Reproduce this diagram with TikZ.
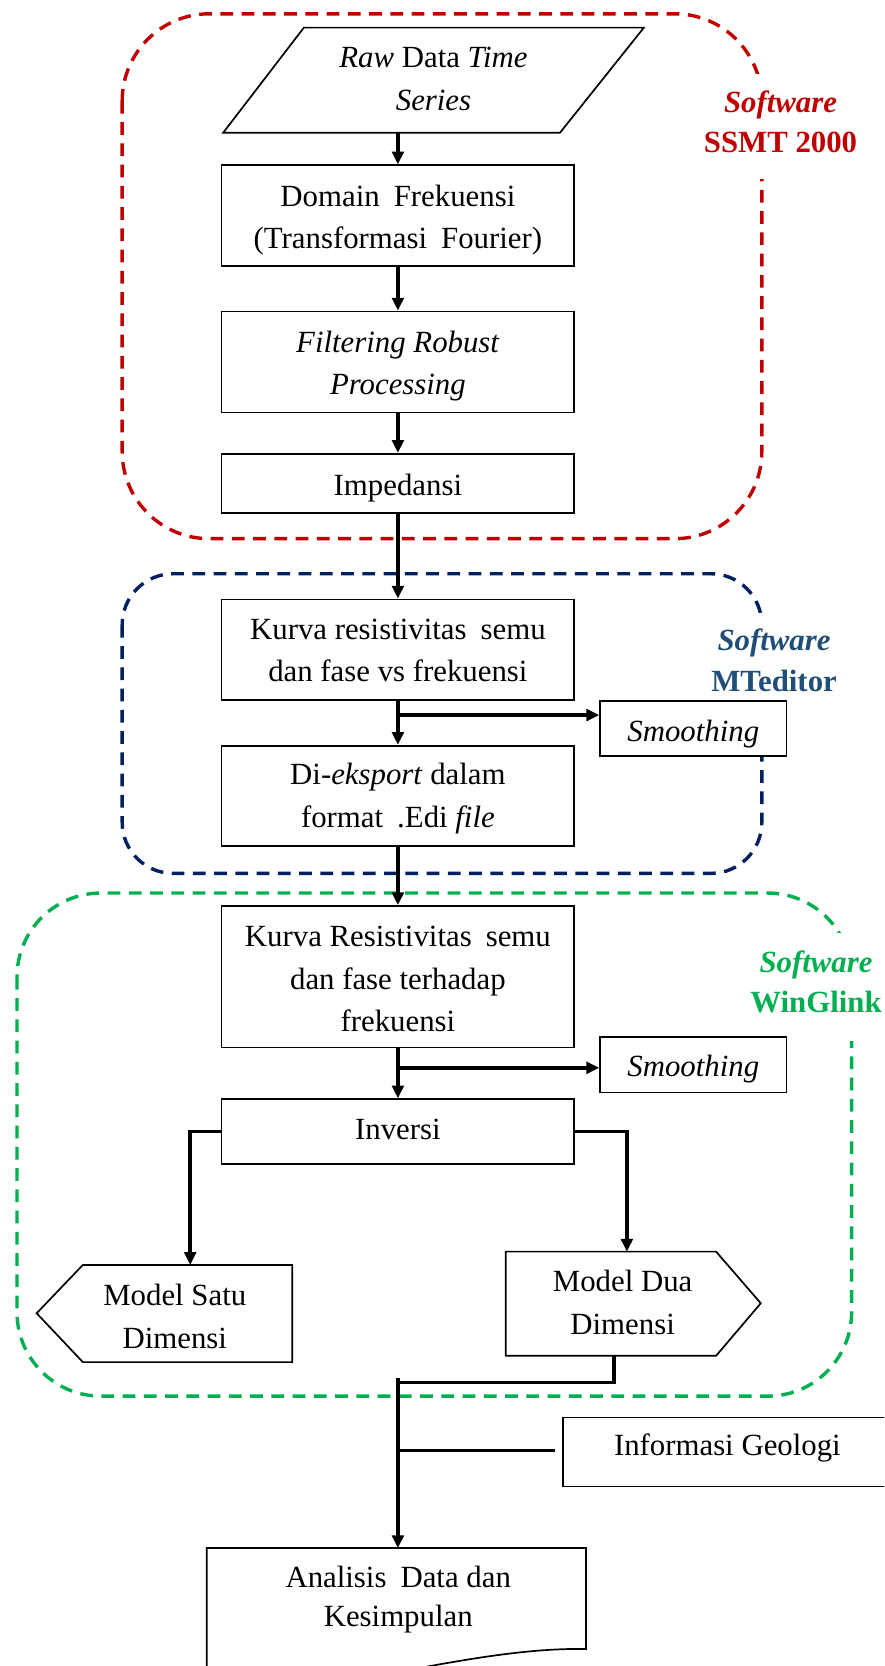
\documentclass[tikz,border=0pt]{standalone}
\usepackage{fontspec}
\setmainfont{Liberation Serif}
\usetikzlibrary{arrows.meta}
\definecolor{redc}{HTML}{C00000}
\definecolor{navy}{HTML}{002060}
\definecolor{bluetxt}{HTML}{1F4E79}
\definecolor{greenc}{HTML}{00B050}
\begin{document}
\begin{tikzpicture}[x=0.5pt,y=-0.5pt,
  every node/.style={font=\fontsize{14.5}{20}\selectfont,align=center},
  box/.style={draw,line width=0.8pt,fill=white,inner sep=0pt,minimum width=166pt},
  smbox/.style={draw,line width=0.8pt,fill=white,inner sep=0pt,minimum width=87.75pt,minimum height=26pt},
  shapeline/.style={draw,line width=0.8pt,fill=white},
  conn/.style={line width=1.6pt},
  arr/.style={conn,-{Triangle[length=6pt,width=5.5pt]}},
  frame/.style={line width=1.6pt,dash pattern=on 6pt off 4pt},
  lbl/.style={font=\bfseries\fontsize{14.5}{19}\selectfont}
  ]
\clip (0,0) rectangle (832,1568);
\fill[white] (0,0) rectangle (832,1568);

% dashed frames
\draw[frame,redc,rounded corners=41pt] (115,13) rectangle (717,507);
\fill[white] (700,70) rectangle (735,168);
\draw[frame,navy,rounded corners=24pt] (115,540) rectangle (717,822);
\fill[white] (700,577) rectangle (735,712);
\draw[frame,greenc,rounded corners=39.5pt] (16,840.5) rectangle (801.5,1314);
\fill[white] (786,878) rectangle (820,980);

% labels
\node[lbl,text=redc] (lblred) at (734.6,114.6) {\textit{Software}\\SSMT 2000};
\node[lbl,text=bluetxt] (lblblue) at (728.5,621.5) {\textit{Software}\\MTeditor};
\node[lbl,text=greenc] (lblgreen) at (768,924) {\textit{Software}\\WinGlink};

% parallelogram
\draw[shapeline] (286,26) -- (606,26) -- (527,125) -- (210,125) -- cycle;
\node (raw) at (408,74.5) {\textit{Raw} Data \textit{Time}\\\textit{Series}};
\coordinate (rawB) at (374.5,125);

% main boxes
\node[box,minimum height=47.5pt] (dom) at (374.5,203) {};
\node (domt) at ([yshift=-2pt]dom.center) {Domain\hspace{3pt} Frekuensi\\(Transformasi\hspace{3pt} Fourier)};
\node[box,minimum height=47.5pt] (filt) at (374.5,340.6) {};
\node (filtt) at ([yshift=-2pt]filt.center) {\textit{Filtering Robust}\\\textit{Processing}};
\node[box,minimum height=28pt] (imp) at (374.5,455) {};
\node (impt) at ([yshift=-2pt]imp.center) {Impedansi};
\node[box,minimum height=47.25pt] (k1) at (374.5,611.4) {};
\node (k1t) at ([yshift=-0.5pt]k1.center) {Kurva resistivitas\hspace{3pt} semu\\dan fase vs frekuensi};
\node[smbox] (sm1) at (652.5,685.5) {};
\node (sm1t) at ([yshift=-2.5pt]sm1.center) {\textit{Smoothing}};
\node[box,minimum height=47.2pt] (edi) at (374.5,749) {};
\node (edit) at ([yshift=-1.25pt]edi.center) {Di-\textit{eksport} dalam\\format\hspace{3pt} .Edi \textit{file}};
\node[box,minimum height=66.65pt] (k2) at (374.5,919.3) {};
\node (k2t) at ([yshift=-1.25pt]k2.center) {Kurva Resistivitas\hspace{3pt} semu\\dan fase terhadap\\frekuensi};
\node[smbox] (sm2) at (652.5,1002.3) {};
\node (sm2t) at ([yshift=-2pt]sm2.center) {\textit{Smoothing}};
\node[box,minimum height=30.5pt] (inv) at (374.5,1065) {};
\node (invt) at ([yshift=1pt]inv.center) {Inversi};

% model shapes
\draw[shapeline] (34.5,1236) -- (78,1190.5) -- (275,1190.5) -- (275,1282) -- (78,1282) -- cycle;
\node (satu) at (164.5,1239) {Model Satu\\Dimensi};
\coordinate (satuTop) at (179,1190.5);
\draw[shapeline] (476,1178) -- (674,1178) -- (716,1226.6) -- (674,1276) -- (476,1276) -- cycle;
\node (dua) at (586,1226) {Model Dua\\Dimensi};
\coordinate (duaTop) at (590,1178);
\coordinate (duaB) at (578,1276);

% informasi geologi
\node[draw,line width=0.8pt,fill=white,inner sep=0pt,minimum width=155pt,minimum height=32.5pt] (info) at (684.6,1366.6) {};
\node (infotxt) at (684.6,1362.5) {Informasi Geologi};

% analisis (document shape)
\draw[shapeline] (194.5,1600) -- (194.5,1457) -- (551.5,1457) -- (551.5,1552)
   .. controls (450,1550) and (330,1590) .. (194.5,1600) -- cycle;
\node[font=\fontsize{14.5}{18}\selectfont] (ana) at (374.8,1505.5) {Analisis\hspace{3pt} Data dan\\Kesimpulan};
\coordinate (anaTop) at (374.5,1457);

% connectors
\draw[arr] (rawB) -- (dom.north);
\draw[arr] (dom.south) -- (filt.north);
\draw[arr] (filt.south) -- (imp.north);
\draw[arr] (imp.south) -- (k1.north);
\coordinate (b1) at (374.5,673);
\draw[arr] (k1.south) -- (edi.north);
\draw[arr] (b1) -- (b1 -| sm1.west);
\draw[arr] (edi.south) -- (k2.north);
\coordinate (b2) at (374.5,1005);
\draw[arr] (k2.south) -- (inv.north);
\draw[arr] (b2) -- (b2 -| sm2.west);
\draw[arr] (inv.west) -| (satuTop);
\draw[arr] (inv.east) -| (duaTop);
\coordinate (join) at (374.5,1301);
\coordinate (jtop) at (374.5,1297);
\draw[conn] (duaB) |- (join);
\draw[arr] (jtop) -- (anaTop);
\coordinate (j2) at (374.5,1365);
\draw[conn,shorten >=3.3pt] (j2) -- (j2 -| info.west);
\end{tikzpicture}
\end{document}
